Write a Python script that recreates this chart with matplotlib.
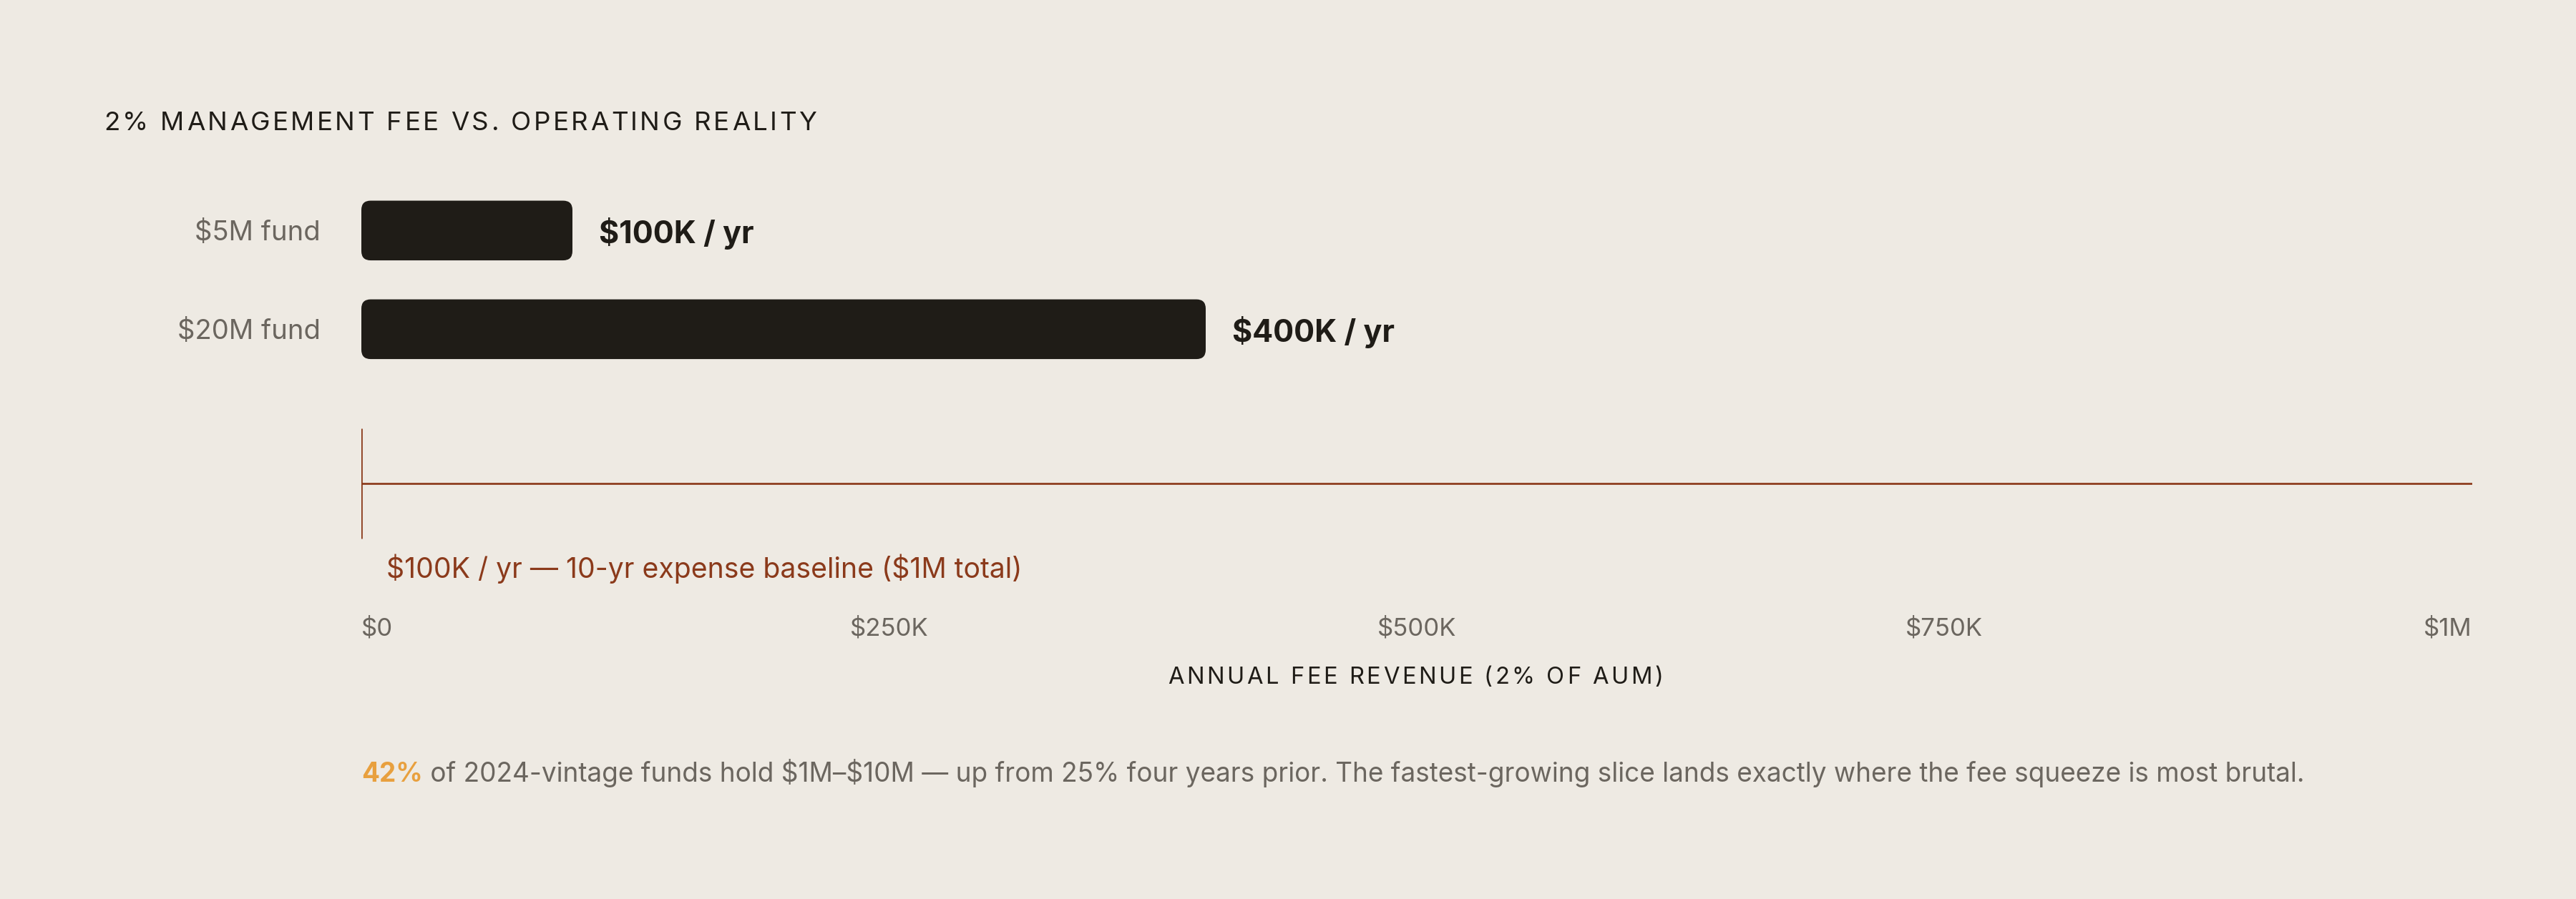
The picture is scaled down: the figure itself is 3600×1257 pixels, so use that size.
import matplotlib
matplotlib.use("Agg")
import matplotlib.pyplot as plt
import matplotlib.transforms as mtransforms
from matplotlib.patches import FancyBboxPatch

# ---------------- data ----------------
categories = ["$5M fund", "$20M fund"]
fee_revenue = [100_000, 400_000]
value_labels = ["$100K / yr", "$400K / yr"]
tick_values = [0, 250_000, 500_000, 750_000, 1_000_000]
tick_labels = ["$0", "$250K", "$500K", "$750K", "$1M"]
baseline_total = 1_000_000
baseline_label = "$100K / yr \u2014 10-yr expense baseline ($1M total)"
title = "2% MANAGEMENT FEE VS. OPERATING REALITY"
xlabel = "ANNUAL FEE REVENUE (2% OF AUM)"
footer_highlight = "42%"
footer_rest = (" of 2024-vintage funds hold $1M\u2013$10M \u2014 up from 25% four years prior. "
               "The fastest-growing slice lands exactly where the fee squeeze is most brutal.")

# ---------------- style ----------------
BG = "#EEEAE3"
INK = "#1F1C17"
GREY = "#6B665F"
RUST = "#8B3A1B"
ORANGE = "#E8A03E"
FONT = ["Inter", "DejaVu Sans"]
plt.rcParams["font.family"] = FONT
plt.rcParams["text.parse_math"] = False

W, H = 3600, 1257
fig = plt.figure(figsize=(W / 100, H / 100), dpi=100, facecolor=BG)

def fy(px):
    return 1 - px / H

def fx(px):
    return px / W

ax = fig.add_axes([fx(505), fy(770), 2950 / W, 520 / H])
ax.set_facecolor(BG)
ax.set_xlim(0, 1_000_000)
ax.set_ylim(3.244, -0.524)
ax.axis("off")

fig.canvas.draw()
renderer = fig.canvas.get_renderer()

# pixel scales for rounded corners
p0 = ax.transData.transform((0, 0))
p1 = ax.transData.transform((1, 1))
px_per_x = abs(p1[0] - p0[0])
px_per_y = abs(p1[1] - p0[1])
radius_px = 13
r_x = radius_px / px_per_x
r_y = radius_px / px_per_y
bar_h = 0.605

for i, (cat, val, lab) in enumerate(zip(categories, fee_revenue, value_labels)):
    patch = FancyBboxPatch((0, i - bar_h / 2), val, bar_h,
                           boxstyle=f"round,pad=0,rounding_size={r_x}",
                           mutation_aspect=r_y / r_x,
                           facecolor=INK, edgecolor="none")
    ax.add_patch(patch)
    ax.annotate(cat, xy=(0, i), xytext=(-57, 0), textcoords="offset pixels",
                ha="right", va="center_baseline", fontsize=27.5, color=GREY)
    ax.annotate(lab, xy=(val, i), xytext=(37, 0), textcoords="offset pixels",
                ha="left", va="center_baseline", fontsize=31, fontweight="bold", color=INK)

# expense baseline
base_row = 2.563
ax.plot([0, baseline_total], [base_row, base_row], color=RUST, lw=1.95, solid_capstyle="butt")
ax.plot([0, 0], [2.005, 3.121], color=RUST, lw=1.9, solid_capstyle="butt")

fig.text(fx(540), fy(808), baseline_label, fontsize=28.2, color=RUST, ha="left", va="baseline")

# tick labels
btrans = mtransforms.blended_transform_factory(ax.transData, fig.transFigure)
for j, (tv, tl) in enumerate(zip(tick_values, tick_labels)):
    ha = "left" if j == 0 else ("right" if j == len(tick_values) - 1 else "center")
    ax.text(tv, fy(888), tl, transform=btrans, ha=ha, va="baseline", fontsize=25, color=GREY)


def text_width(s, size):
    t = fig.text(0, 0, s, fontsize=size)
    w = t.get_window_extent(renderer).width
    t.remove()
    return w


def spaced_text(s, x_left_px, x_right_px, base_px, size, color):
    """Draw letter-spaced caps text so that it spans x_left_px..x_right_px."""
    ref = "H"
    ref_w = text_width(ref, size)
    adv = [text_width(s[:k] + ref, size) - ref_w for k in range(len(s))]
    natural = text_width(s, size)
    gap = (x_right_px - x_left_px - natural) / (len(s) - 1)
    for k, ch in enumerate(s):
        if ch == " ":
            continue
        fig.text(fx(x_left_px + adv[k] + gap * k), fy(base_px), ch, ha="left",
                 va="baseline", fontsize=size, color=color)


# title and axis label (letter-spaced)
spaced_text(title, 145, 1141, 182, 26.5, INK)
spaced_text(xlabel, 1632, 2324, 956, 23.5, INK)

# footer
t1 = fig.text(fx(505), fy(1093), footer_highlight, ha="left", va="baseline",
              fontsize=26.6, fontweight="bold", color=ORANGE)
fig.canvas.draw()
ax.annotate(footer_rest, xy=(1, 0), xycoords=t1, xytext=(0, 0), textcoords="offset pixels",
            ha="left", va="bottom", fontsize=26.6, color=GREY, annotation_clip=False)

fig.savefig("out.png", dpi=100, facecolor=BG)
